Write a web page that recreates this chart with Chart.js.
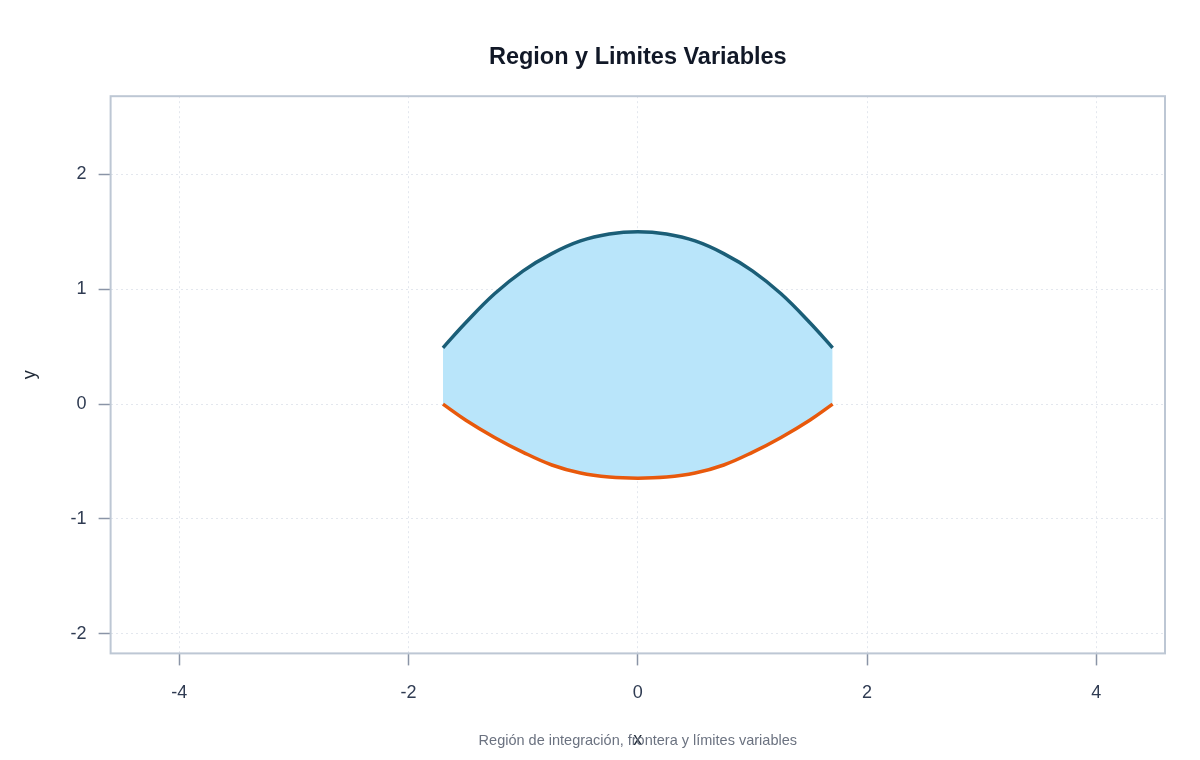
<!DOCTYPE html>
<html>
<head>
<meta charset="utf-8">
<script src="https://cdn.jsdelivr.net/npm/chart.js@4"></script>
<style>
  html, body { margin: 0; padding: 0; background: #fff; }
  #wrap { width: 1200px; height: 760px; }
</style>
</head>
<body>
<div id="wrap"><canvas id="regionChart" width="1200" height="760"></canvas></div>
<script>
// valores
const xVals = [-1.7, -1.5, -1.25, -1.0, -0.75, -0.5, -0.25, 0, 0.25, 0.5, 0.75, 1.0, 1.25, 1.5, 1.7];
const upperVals = [0.49, 0.71, 0.96, 1.16, 1.31, 1.42, 1.48, 1.5, 1.48, 1.42, 1.31, 1.16, 0.96, 0.71, 0.49];
const lowerVals = [0.0, -0.14, -0.29, -0.42, -0.53, -0.60, -0.635, -0.645, -0.635, -0.60, -0.53, -0.42, -0.29, -0.14, 0.0];
const xTicks = [-4, -2, 0, 2, 4];
const yTicks = [-2, -1, 0, 1, 2];

const fontFam = '"Liberation Sans", Arial, Helvetica, sans-serif';

// marco alrededor del area del grafico
const framePlugin = {
    id: 'frame',
    afterDraw(chart) {
        const { ctx, chartArea } = chart;
        ctx.save();
        ctx.strokeStyle = '#bdc7d4';
        ctx.lineWidth = 2;
        ctx.strokeRect(chartArea.left, chartArea.top, chartArea.right - chartArea.left, chartArea.bottom - chartArea.top);
        ctx.restore();
    }
};

const ctx = document.getElementById('regionChart').getContext('2d');

new Chart(ctx, {
    type: 'scatter',
    data: {
        datasets: [{
            label: 'Superior',
            data: xVals.map((x, i) => ({ x: x, y: upperVals[i] })),
            showLine: true,
            borderColor: '#1b5e77',
            borderWidth: 3.5,
            pointRadius: 0,
            tension: 0.4,
            backgroundColor: 'rgba(185,229,250,1)',
            fill: '+1'
        }, {
            label: 'Inferior',
            data: xVals.map((x, i) => ({ x: x, y: lowerVals[i] })),
            showLine: true,
            borderColor: '#e8590c',
            borderWidth: 3.5,
            pointRadius: 0,
            tension: 0.4,
            fill: false
        }]
    },
    options: {
        responsive: false,
        animation: false,
        layout: { padding: { left: 14, right: 35, top: 0, bottom: 0 } },
        plugins: {
            legend: { display: false },
            tooltip: { enabled: false },
            filler: { drawTime: 'beforeDatasetsDraw' },
            title: {
                display: true,
                fullSize: false,
                text: 'Region y Limites Variables',
                color: '#111827',
                font: { family: fontFam, size: 23.5, weight: 'bold' },
                padding: { top: 43, bottom: 25 }
            },
            subtitle: {
                display: true,
                fullSize: false,
                position: 'bottom',
                text: 'Región de integración, frontera y límites variables',
                color: '#6b7280',
                font: { family: fontFam, size: 14.5 },
                padding: { top: 0, bottom: 10 }
            }
        },
        scales: {
            x: {
                type: 'linear',
                min: -4.6,
                max: 4.6,
                afterBuildTicks: (scale) => { scale.ticks = xTicks.map(v => ({ value: v })); },
                ticks: { color: '#2f3b52', font: { family: fontFam, size: 18 }, padding: 17 },
                grid: {
                    color: '#e3e7ee',
                    lineWidth: 1,
                    tickLength: 12,
                    tickColor: '#8a94a6',
                    tickWidth: 1.5,
                    tickBorderDash: []
                },
                border: { display: false, dash: [2, 3] },
                title: {
                    display: true,
                    text: 'x',
                    color: '#1f2937',
                    font: { family: fontFam, size: 18 },
                    padding: { top: 8, bottom: -18 }
                }
            },
            y: {
                type: 'linear',
                min: -2.17,
                max: 2.68,
                afterBuildTicks: (scale) => { scale.ticks = yTicks.map(v => ({ value: v })); },
                ticks: { color: '#2f3b52', font: { family: fontFam, size: 18 }, padding: 12 },
                grid: {
                    color: '#e3e7ee',
                    lineWidth: 1,
                    tickLength: 12,
                    tickColor: '#8a94a6',
                    tickWidth: 1.5,
                    tickBorderDash: []
                },
                border: { display: false, dash: [2, 3] },
                title: {
                    display: true,
                    text: 'y',
                    color: '#1f2937',
                    font: { family: fontFam, size: 18 },
                    padding: { top: 5, bottom: 18 }
                }
            }
        }
    },
    plugins: [framePlugin]
});
</script>
</body>
</html>
